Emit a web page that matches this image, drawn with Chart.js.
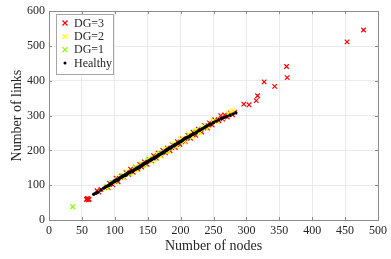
<!DOCTYPE html>
<html>
<head>
<meta charset="utf-8">
<script src="https://cdn.jsdelivr.net/npm/chart.js@4/dist/chart.umd.min.js"></script>
<style>
  html, body { margin: 0; padding: 0; background: #fff; }
  #wrap { width: 391px; height: 259px; }
</style>
</head>
<body>
<div id="wrap"><canvas id="c" width="391" height="259"></canvas></div>
<script>
// x = number of nodes, y = number of links
const dg3 = [[57,59],[59,62],[61,60],[58,61],[60,58],[73,84],[76,80],[79,88],[90,93],[92,106],[97,101],[102,120],[105,110],[110,126],[114,122],[117,136],[121,131],[124,146],[128,137],[131,152],[135,146],[138,160],[141,152],[145,167],[149,160],[152,176],[156,170],[159,185],[163,178],[166,192],[170,185],[173,200],[177,193],[180,207],[184,199],[188,216],[192,208],[195,225],[199,217],[203,233],[207,225],[211,243],[215,235],[219,252],[223,243],[227,261],[232,253],[236,271],[241,264],[244,279],[248,273],[252,288],[258,285],[261,300],[264,290],[267,302],[271,296],[276,308],[279,302],[282,310],[296,333],[304,331],[315,343],[317,357],[327,397],[343,384],[361,441],[362,409],[453,512],[478,546]];
const dg2 = [[86,96],[88,92],[95,108],[102,109],[108,126],[113,122],[118,139],[124,134],[130,152],[134,143],[140,162],[146,158],[152,178],[158,170],[164,191],[170,183],[176,205],[182,197],[188,219],[194,211],[200,233],[206,226],[212,247],[218,239],[223,258],[229,250],[235,270],[242,266],[249,286],[256,283],[272,306],[279,314]];
const dg1 = [[36,38],[88,97],[96,108],[104,117],[112,128],[122,135],[132,150],[142,156],[150,171],[160,176],[168,192],[178,197],[190,216],[200,223],[212,238],[222,254],[232,262]];
const healthy = [[68,74],[71,77],[74,80],[79,86],[83,91],[85,94],[87,96],[89,98],[91,100],[93,103],[95,105],[96,107],[98,109],[100,111],[101,112],[103,115],[104,116],[106,118],[107,120],[109,122],[110,123],[112,125],[113,127],[115,128],[116,130],[118,132],[119,133],[120,134],[122,136],[123,137],[125,139],[126,141],[128,142],[129,144],[131,145],[132,147],[134,148],[135,150],[136,151],[138,153],[139,155],[141,156],[142,158],[144,160],[145,162],[147,164],[148,165],[150,168],[151,169],[153,171],[154,172],[156,174],[157,175],[159,177],[160,179],[162,181],[163,182],[165,184],[166,186],[168,188],[169,189],[171,191],[172,193],[174,195],[175,196],[177,199],[178,200],[180,202],[181,203],[183,206],[184,207],[186,209],[187,211],[189,213],[190,214],[192,216],[193,217],[195,220],[197,222],[198,224],[200,226],[202,228],[203,229],[205,232],[207,234],[209,236],[211,238],[213,240],[215,243],[217,245],[219,247],[221,249],[224,252],[227,256],[230,259],[233,262],[236,265],[240,270],[243,273],[246,276],[250,280],[254,284],[258,288],[262,292],[266,295],[270,298],[275,301],[280,305],[284,308],
  [99,112],[105,115],[111,126],[117,129],[121,137],[127,140],[133,149],[137,150],[143,161],[149,166],[155,174],[161,178],[167,188],[173,193],[179,203],[185,208],[191,216],[196,221],[201,226],[208,236],[214,241],[220,247],[229,258],[238,268]];

const labels = ["DG=3", "DG=2", "DG=1", "Healthy"];
const colors = ["#ff0000", "#ffff00", "#80ff00", "#000000"];
const xTicks = [0, 50, 100, 150, 200, 250, 300, 350, 400, 450, 500];
const yTicks = [0, 100, 200, 300, 400, 500, 600];

const FONT = "'Liberation Serif', 'DejaVu Serif', serif";
const toPts = (arr) => arr.map(([x, y]) => ({ x, y }));

// legend + inner tick marks drawn by hand (matlab style)
const boxPlugin = {
    id: "boxPlugin",
    afterDraw(chart) {
        const { ctx, chartArea: a, scales } = chart;
        ctx.save();
        ctx.strokeStyle = "#8c8c8c";
        ctx.lineWidth = 1;
        ctx.beginPath();
        xTicks.forEach((t) => {
            const px = Math.round(scales.x.getPixelForValue(t)) + 0.5;
            ctx.moveTo(px, a.bottom); ctx.lineTo(px, a.bottom - 3);
            ctx.moveTo(px, a.top); ctx.lineTo(px, a.top + 3);
        });
        yTicks.forEach((t) => {
            const py = Math.round(scales.y.getPixelForValue(t)) + 0.5;
            ctx.moveTo(a.left, py); ctx.lineTo(a.left + 3, py);
            ctx.moveTo(a.right, py); ctx.lineTo(a.right - 3, py);
        });
        ctx.stroke();
        ctx.strokeRect(Math.round(a.left) + 0.5, Math.round(a.top) + 0.5,
            Math.round(a.right - a.left), Math.round(a.bottom - a.top));

        // legend box
        const lx = 56.5, ly = 14.5, lw = 57, lh = 60;
        ctx.fillStyle = "#fff";
        ctx.fillRect(lx, ly, lw, lh);
        ctx.strokeStyle = "#a6a6a6";
        ctx.strokeRect(lx, ly, lw, lh);
        ctx.font = "12px " + FONT;
        ctx.textBaseline = "middle";
        labels.forEach((lab, i) => {
            const cy = 23 + i * 13.3;
            const cx = 65;
            ctx.strokeStyle = colors[i];
            ctx.fillStyle = colors[i];
            if (i < 3) {
                ctx.lineWidth = 1.2;
                ctx.beginPath();
                ctx.moveTo(cx - 2.5, cy - 2.5); ctx.lineTo(cx + 2.5, cy + 2.5);
                ctx.moveTo(cx - 2.5, cy + 2.5); ctx.lineTo(cx + 2.5, cy - 2.5);
                ctx.stroke();
            } else {
                ctx.beginPath();
                ctx.arc(cx, cy, 1.5, 0, Math.PI * 2);
                ctx.fill();
            }
            ctx.fillStyle = "#262626";
            ctx.fillText(lab, 74, cy + 0.5);
        });
        ctx.restore();
    },
};

const mk = (i, data, order) => ({
    label: labels[i],
    data: toPts(data),
    order,
    pointStyle: i < 3 ? "crossRot" : "circle",
    pointRadius: i < 3 ? 3.2 : 1.7,
    borderWidth: i < 3 ? 1.2 : 0,
    borderColor: colors[i],
    backgroundColor: colors[i],
    pointHoverRadius: 0,
});

new Chart(document.getElementById("c"), {
    type: "scatter",
    data: {
        datasets: [mk(0, dg3, 4), mk(1, dg2, 3), mk(2, dg1, 2), mk(3, healthy, 1)],
    },
    options: {
        responsive: false,
        animation: false,
        events: [],
        layout: { padding: { top: 10, right: 9, left: 0, bottom: 0 } },
        plugins: { legend: { display: false }, tooltip: { enabled: false } },
        scales: {
            x: {
                type: "linear",
                min: 0, max: 500,
                afterBuildTicks: (s) => { s.ticks = xTicks.map((v) => ({ value: v })); },
                afterFit: (s) => { s.height = 39; },
                grid: { color: "#ebebeb", drawTicks: false },
                border: { display: false },
                ticks: { color: "#262626", padding: 4, maxRotation: 0, font: { family: FONT, size: 12 } },
                title: { display: true, text: "Number of nodes", color: "#262626", padding: { top: 0, bottom: 4 }, font: { family: FONT, size: 14 } },
            },
            y: {
                type: "linear",
                min: 0, max: 600,
                afterBuildTicks: (s) => { s.ticks = yTicks.map((v) => ({ value: v })); },
                afterFit: (s) => { s.width = 49; },
                grid: { color: "#ebebeb", drawTicks: false },
                border: { display: false },
                ticks: { color: "#262626", padding: 4, font: { family: FONT, size: 12 } },
                title: { display: true, text: "Number of links", color: "#262626", padding: { top: 9, bottom: 0 }, font: { family: FONT, size: 14 } },
            },
        },
    },
    plugins: [boxPlugin],
});
</script>
</body>
</html>
